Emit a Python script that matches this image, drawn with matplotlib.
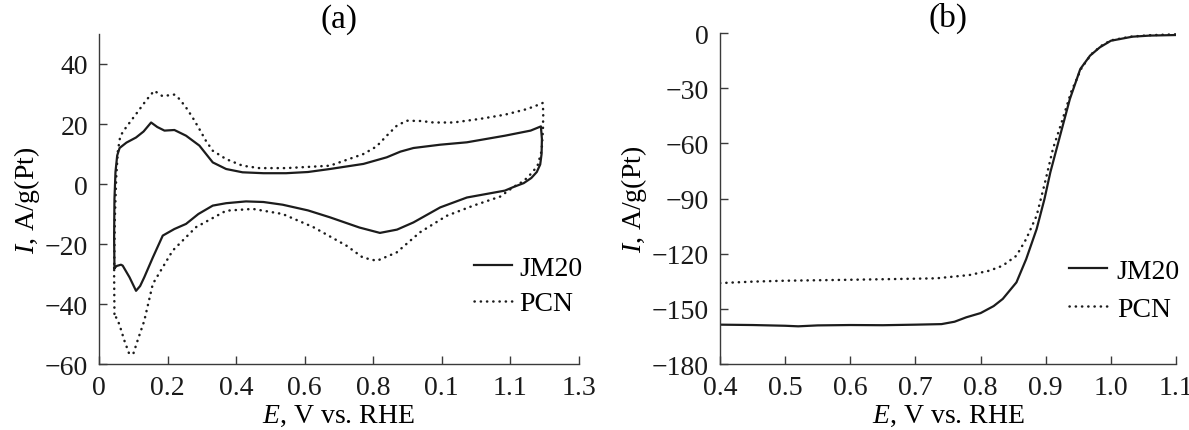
import matplotlib
matplotlib.use("Agg")
import matplotlib.pyplot as plt

# (a) cyclic voltammograms, E in V vs RHE, I in A/g(Pt)
jm20_cv_e = [0.045, 0.044, 0.045, 0.048, 0.053, 0.060, 0.080, 0.108, 0.130, 0.152, 0.170,
             0.191, 0.220, 0.254, 0.293, 0.332, 0.371, 0.419, 0.480, 0.546, 0.610, 0.674,
             0.772, 0.840, 0.880, 0.918, 0.996, 1.074, 1.185, 1.260, 1.290, 1.293, 1.292,
             1.288, 1.278, 1.262, 1.240, 1.210, 1.185, 1.074, 0.996, 0.918, 0.870, 0.820,
             0.760, 0.674, 0.610, 0.536, 0.480, 0.429, 0.371, 0.332, 0.290, 0.254, 0.220,
             0.186, 0.157, 0.132, 0.120, 0.108, 0.089, 0.069, 0.064, 0.052, 0.045]
jm20_cv_i = [-28.0, -18.0, -5.0, 4.0, 9.5, 12.0, 13.8, 15.5, 17.5, 20.5, 19.0,
             17.8, 18.0, 16.1, 12.8, 7.2, 5.0, 3.9, 3.6, 3.6, 4.0, 5.0,
             6.7, 8.9, 10.8, 12.0, 13.1, 13.9, 16.1, 17.8, 19.2, 15.0, 10.0,
             6.5, 4.0, 2.0, 0.3, -1.0, -2.2, -4.5, -7.8, -12.8, -15.2, -16.3,
             -14.5, -11.1, -8.8, -6.9, -6.0, -5.8, -6.4, -7.2, -10.0, -13.3, -15.0,
             -17.2, -24.5, -31.1, -34.0, -35.6, -31.1, -27.2, -26.9, -27.3, -28.0]

pcn_cv_e = [0.045, 0.044, 0.046, 0.050, 0.055, 0.062, 0.079, 0.108, 0.137, 0.161, 0.185,
            0.220, 0.235, 0.254, 0.273, 0.293, 0.312, 0.332, 0.371, 0.419, 0.468, 0.546,
            0.674, 0.772, 0.810, 0.840, 0.869, 0.898, 0.940, 0.976, 1.035, 1.112, 1.185,
            1.250, 1.285, 1.295, 1.297, 1.296, 1.292, 1.280, 1.262, 1.240, 1.210, 1.171,
            1.093, 1.015, 0.937, 0.869, 0.811, 0.770, 0.723, 0.626, 0.536, 0.449, 0.371,
            0.283, 0.215, 0.157, 0.132, 0.113, 0.100, 0.088, 0.074, 0.059, 0.045]
pcn_cv_i = [-43.3, -30.0, -12.0, 2.0, 11.0, 16.0, 18.9, 23.3, 27.8, 31.1, 29.3,
            29.8, 28.3, 25.5, 22.2, 18.3, 14.4, 11.1, 8.3, 6.1, 5.3, 5.3,
            6.1, 10.0, 12.5, 16.1, 19.4, 21.1, 21.0, 20.5, 20.5, 21.7, 23.1,
            25.0, 26.5, 27.0, 24.0, 18.0, 11.0, 6.0, 3.5, 1.0, -1.0, -4.2,
            -7.2, -10.6, -16.1, -22.8, -25.6, -24.5, -20.6, -14.4, -10.0, -8.3, -8.9,
            -14.4, -22.2, -33.3, -45.6, -52.0, -56.6, -56.6, -52.2, -46.7, -43.3]

# (b) linear sweep voltammograms
jm20_lsv_e = [0.40, 0.45, 0.50, 0.52, 0.55, 0.60, 0.65, 0.70, 0.74, 0.76, 0.778, 0.80,
              0.82, 0.834, 0.855, 0.870, 0.886, 0.898, 0.907, 0.922, 0.937, 0.953, 0.968,
              0.983, 1.000, 1.033, 1.06, 1.10]
jm20_lsv_i = [-158.6, -158.8, -159.2, -159.5, -159.0, -158.8, -158.9, -158.6, -158.3, -157.0,
              -154.6, -152.3, -148.5, -144.6, -135.6, -122.9, -106.6, -90.3, -75.8, -55.8,
              -35.9, -19.6, -12.3, -7.8, -4.2, -2.0, -1.4, -1.1]

pcn_lsv_e = [0.40, 0.45, 0.50, 0.579, 0.65, 0.732, 0.783, 0.814, 0.834, 0.855, 0.870, 0.886,
             0.899, 0.911, 0.924, 0.939, 0.955, 0.970, 0.985, 1.00, 1.03, 1.06, 1.10]
pcn_lsv_i = [-136.0, -135.2, -134.7, -134.3, -133.9, -133.4, -131.6, -129.2, -126.5, -121.1,
             -112.0, -99.3, -81.0, -63.0, -49.0, -32.0, -19.0, -11.5, -7.0, -4.0, -2.0,
             -1.2, -0.7]

cv_ticks = [0, 0.2, 0.4, 0.6, 0.8, 1.0, 1.2, 1.4]
cv_tick_labels = ['0', '0.2', '0.4', '0.6', '0.8', '0.1', '1.1', '1.3']
lsv_ticks = [0.4, 0.5, 0.6, 0.7, 0.8, 0.9, 1.0, 1.1]
lsv_tick_labels = ['0.4', '0.5', '0.6', '0.7', '0.8', '0.9', '1.0', '1.1']

plt.rcParams['font.family'] = ['Liberation Serif', 'DejaVu Serif']
plt.rcParams['mathtext.fontset'] = 'custom'
plt.rcParams['mathtext.rm'] = 'Liberation Serif'
plt.rcParams['mathtext.it'] = 'Liberation Serif:italic'
plt.rcParams['font.size'] = 20

line_col = '#1c1c1c'
axis_col = '#3a3a3a'
dot_style = (0, (0.1, 2.4))

fig = plt.figure(figsize=(11.89, 4.31), dpi=100)
ax1 = fig.add_axes([0.0833, 0.1531, 0.4033, 0.7657])
ax2 = fig.add_axes([0.6056, 0.1531, 0.3835, 0.768])


def style_axis(ax):
    for side in ['top', 'right']:
        ax.spines[side].set_visible(False)
    for side in ['left', 'bottom']:
        ax.spines[side].set_color(axis_col)
        ax.spines[side].set_linewidth(1.0)
    ax.tick_params(direction='in', length=6, width=1.0, color=axis_col,
                   labelcolor='#1a1a1a', pad=8)
    ax.set_xlabel('$\\mathit{E}$, V vs. RHE', labelpad=2)
    ax.set_ylabel('$\\mathit{I}$, A/g(Pt)', labelpad=2)


# panel (a)
ax1.plot(jm20_cv_e, jm20_cv_i, color=line_col, lw=1.6, label='JM20')
ax1.plot(pcn_cv_e, pcn_cv_i, color=line_col, lw=1.8, linestyle=dot_style,
         dash_capstyle='round', label='PCN')
ax1.set_xlim(0, 1.4)
ax1.set_ylim(-60, 50)
ax1.set_xticks(cv_ticks)
ax1.set_xticklabels(cv_tick_labels)
ax1.set_yticks([-60, -40, -20, 0, 20, 40])
style_axis(ax1)
ax1.set_title('(a)', pad=5)
ax1.legend(loc='center left', bbox_to_anchor=(474 / 1189, 1 - 287 / 431),
           bbox_transform=fig.transFigure, frameon=False, borderpad=0,
           borderaxespad=0, handlelength=1.37, handletextpad=0.25, labelspacing=0.35)

# panel (b)
ax2.plot(jm20_lsv_e, jm20_lsv_i, color=line_col, lw=1.6, label='JM20')
ax2.plot(pcn_lsv_e, pcn_lsv_i, color=line_col, lw=1.8, linestyle=dot_style,
         dash_capstyle='round', label='PCN')
ax2.set_xlim(0.4, 1.1)
ax2.set_ylim(-180, 0)
ax2.set_xticks(lsv_ticks)
ax2.set_xticklabels(lsv_tick_labels)
ax2.set_yticks([-180, -150, -120, -90, -60, -30, 0])
style_axis(ax2)
ax2.set_title('(b)', pad=5)
ax2.legend(loc='center left', bbox_to_anchor=(1069 / 1189, 1 - 291 / 431),
           bbox_transform=fig.transFigure, frameon=False, borderpad=0,
           borderaxespad=0, handlelength=1.37, handletextpad=0.35, labelspacing=0.46)

fig.savefig('out.png', dpi=100)
